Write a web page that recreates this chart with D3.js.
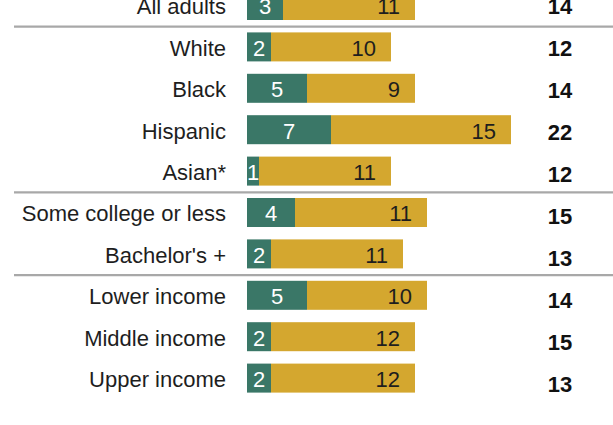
<!DOCTYPE html>
<html>
<head>
<meta charset="utf-8">
<script src="https://cdn.jsdelivr.net/npm/d3@7"></script>
<style>
html,body{margin:0;padding:0;background:#fff;}
svg{display:block;}
text{font-family:"Liberation Sans",Arial,sans-serif;}
</style>
</head>
<body>
<svg id="chart" width="613" height="425"></svg>
<script>
const categories = ["All adults","White","Black","Hispanic","Asian*","Some college or less","Bachelor's +","Lower income","Middle income","Upper income"];
const seriesA = [3,2,5,7,1,4,2,5,2,2];
const seriesB = [11,10,9,15,11,11,11,10,12,12];
const totals = [14,12,14,22,12,15,13,14,15,13];
const separatorsAfter = ["All adults","Asian*","Bachelor's +"];

const svg = d3.select("#chart");
const x = d3.scaleLinear().domain([0,22]).range([247,511]);
const y = d3.scalePoint().domain(categories).range([5.5, 378.1]);
const barH = 29;
const green = "#3a7767", gold = "#d4a72f";
const fs = 22;

// separators
separatorsAfter.forEach(c => {
  const i = categories.indexOf(c);
  const yy = (y(categories[i]) + y(categories[i+1]))/2 + 0.5;
  svg.append("line").attr("x1",14).attr("x2",613).attr("y1",yy).attr("y2",yy)
    .attr("stroke","#a8a8a8").attr("stroke-width",2.2);
});

const rows = svg.selectAll("g.row").data(categories).join("g").attr("class","row");

rows.append("text")
  .attr("x",226).attr("y",c=>y(c)+1).attr("dy","0.36em")
  .attr("text-anchor","end").attr("font-size",fs).attr("fill","#1e1e1e")
  .text(c=>c);

rows.append("rect")
  .attr("x",x(0)).attr("y",c=>y(c)-barH/2)
  .attr("width",(c,i)=>x(seriesA[i])-x(0)).attr("height",barH)
  .attr("fill",green);
rows.append("rect")
  .attr("x",(c,i)=>x(seriesA[i])).attr("y",c=>y(c)-barH/2)
  .attr("width",(c,i)=>x(seriesA[i]+seriesB[i])-x(seriesA[i])).attr("height",barH)
  .attr("fill",gold);

rows.append("text")
  .attr("x",(c,i)=>(x(0)+x(seriesA[i]))/2).attr("y",c=>y(c)+1).attr("dy","0.36em")
  .attr("text-anchor","middle").attr("font-size",fs).attr("fill","#fff")
  .text((c,i)=>seriesA[i]);
rows.append("text")
  .attr("x",(c,i)=>x(seriesA[i]+seriesB[i])-15).attr("y",c=>y(c)+1).attr("dy","0.36em")
  .attr("text-anchor","end").attr("font-size",fs).attr("fill","#1e1e1e")
  .text((c,i)=>seriesB[i]);

rows.append("text")
  .attr("x",560).attr("y",(c,i)=>y(c)+0.6*i+0.5).attr("dy","0.36em")
  .attr("text-anchor","middle").attr("font-size",fs).attr("font-weight","bold").attr("fill","#111")
  .text((c,i)=>totals[i]);
</script>
</body>
</html>
